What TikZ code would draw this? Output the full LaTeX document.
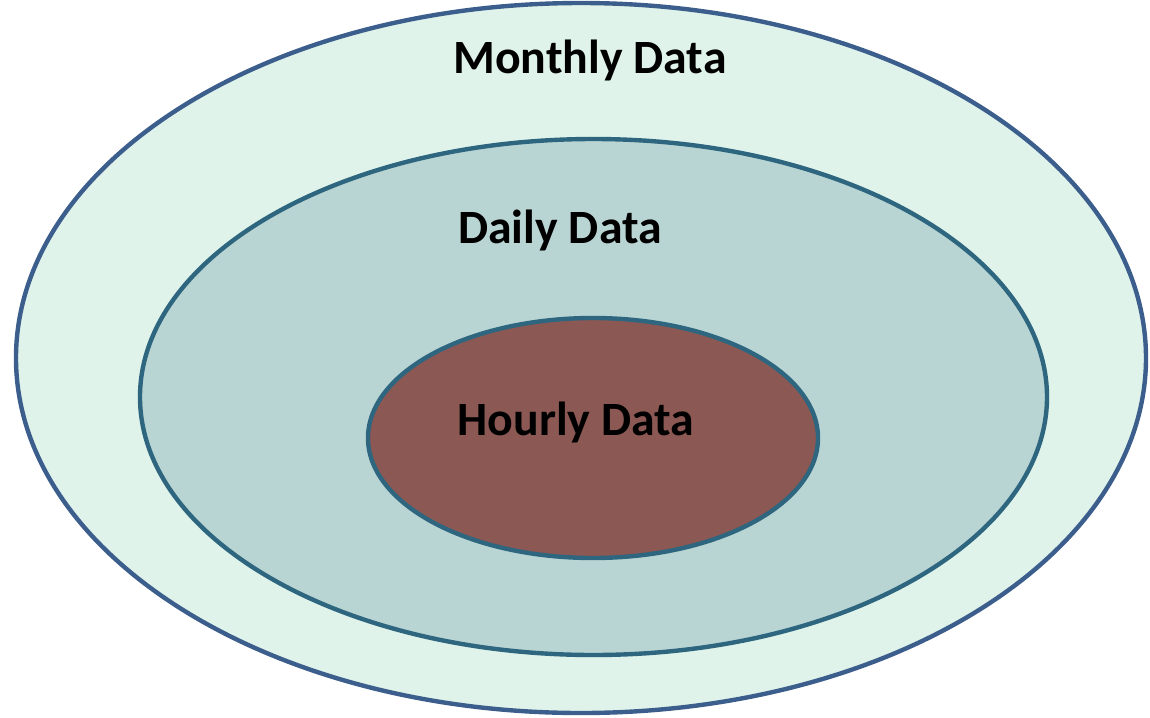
\documentclass[tikz,border=0pt]{standalone}
\usepackage{fontspec}
\setmainfont{Carlito}
\usepackage{tikz}
\definecolor{outerline}{HTML}{3B5E8C}
\definecolor{outerfill}{HTML}{DFF3EA}
\definecolor{midline}{HTML}{2E6680}
\definecolor{midfill}{HTML}{B9D5D3}
\definecolor{innerfill}{HTML}{8B5853}

\begin{document}
\begin{tikzpicture}[lab/.style={anchor=base, font=\bfseries\fontsize{27.2}{31}\selectfont}]
			\useasboundingbox (0,0) rectangle (23,-14.34);
			\draw[line width=2.5pt, draw=outerline, fill=outerfill] (11.62,-7.16) ellipse (11.30 and 7.10);
			\draw[line width=2.5pt, draw=midline, fill=midfill] (11.87,-7.94) ellipse (9.07 and 5.16);
			\draw[line width=2.5pt, draw=midline, fill=innerfill] (11.86,-8.76) ellipse (4.5 and 2.4);
			\node[lab] (monthly) at (11.8,-1.46) {Monthly Data};
			\node[lab] (daily) at (11.2,-4.86) {Daily Data};
			\node[lab] (hourly) at (11.52,-8.7) {Hourly Data};
		\end{tikzpicture}
\end{document}
